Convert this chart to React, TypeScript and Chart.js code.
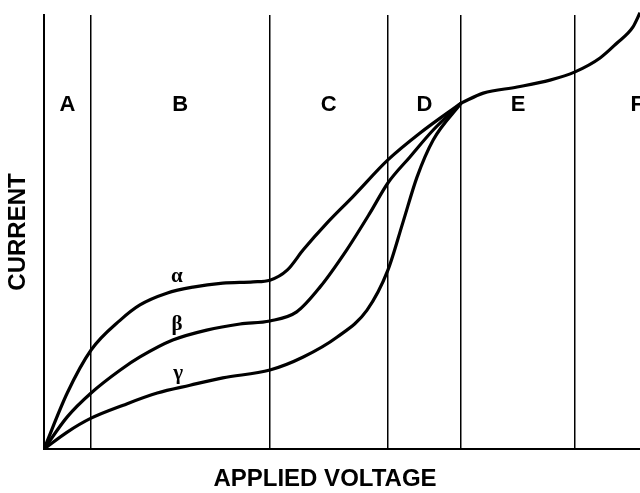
import React, { useEffect, useRef } from "react";
import { Chart, registerables } from "chart.js";

Chart.register(...registerables);

// Region boundaries along the applied-voltage axis (arbitrary units, 0..100)
const regionBoundaries = [7.9, 37.8, 57.7, 70.0, 89.1];
const regionLabels = ["A", "B", "C", "D", "E", "F"];

// Curve alpha (rises to plateau first)
const alphaX = [0, 3.9, 7.9, 12.8, 16.1, 20.6, 25.0, 30.0, 35.1, 37.9, 40.8, 43.5, 47.5, 51.8, 57.7, 63.1, 70.0];
const alphaY = [0, 12.9, 22.8, 29.7, 33.2, 35.9, 37.3, 38.2, 38.5, 38.9, 41.2, 45.9, 52.1, 58.1, 66.6, 72.8, 79.7];

// Curve beta
const betaX = [0, 3.9, 7.9, 12.8, 16.1, 21.6, 27.3, 32.9, 37.9, 42.4, 46.3, 50.8, 54.7, 57.7, 61.4, 65.3, 70.0];
const betaY = [0, 7.4, 12.9, 18.2, 21.2, 25.1, 27.4, 28.8, 29.5, 31.6, 37.3, 45.9, 54.4, 61.3, 67.3, 73.5, 79.7];

// Curve gamma
const gammaX = [0, 3.9, 7.9, 13.3, 19.0, 24.5, 30.0, 37.9, 43.5, 49.2, 54.2, 57.7, 60.2, 62.6, 65.3, 70.0];
const gammaY = [0, 3.9, 7.1, 10.1, 12.9, 14.7, 16.4, 18.2, 21.2, 25.8, 32.0, 41.2, 52.1, 62.7, 71.2, 79.7];

// Common branch after the curves merge
const commonX = [70.0, 73.7, 79.4, 84.9, 89.1, 93.3, 96.1, 98.8, 100];
const commonY = [79.7, 82.0, 83.4, 85.0, 86.9, 90.1, 93.5, 97.2, 100.5];

const curveNames = ["α", "β", "γ"];
const curveNameAt = [22.3, 22.3, 22.5];
const xTitle = "APPLIED VOLTAGE";
const yTitle = "CURRENT";

const toPts = (xs: number[], ys: number[]) => xs.map((x, i) => ({ x, y: ys[i] }));

const labelsPlugin = {
  id: "diagramLabels",
  afterDraw(chart: any) {
    const ctx = chart.ctx;
    const xs = chart.scales.x;
    const ys = chart.scales.y;
    ctx.save();
    ctx.fillStyle = "#000";
    ctx.textAlign = "center";
    ctx.textBaseline = "middle";

    // Region letters centred between boundaries
    const edges = [0, ...regionBoundaries, 110];
    ctx.font = "bold 22px 'Liberation Sans', Arial, sans-serif";
    regionLabels.forEach((t, i) => {
      const cx = (xs.getPixelForValue(edges[i]) + xs.getPixelForValue(edges[i + 1])) / 2;
      ctx.fillText(t, cx, 105);
    });

    // Curve names, placed just above each curve
    ctx.font = "bold 21px 'Liberation Serif', 'DejaVu Serif', serif";
    const curves = [
      [alphaX, alphaY],
      [betaX, betaY],
      [gammaX, gammaY],
    ];
    curves.forEach(([cx, cy], i) => {
      const xv = curveNameAt[i];
      let yv = cy[0];
      for (let k = 0; k < cx.length - 1; k++) {
        if (xv >= cx[k] && xv <= cx[k + 1]) {
          yv = cy[k] + ((cy[k + 1] - cy[k]) * (xv - cx[k])) / (cx[k + 1] - cx[k]);
          break;
        }
      }
      ctx.fillText(curveNames[i], xs.getPixelForValue(xv), ys.getPixelForValue(yv) - 14);
    });

    // Axis titles
    ctx.font = "bold 24px 'Liberation Sans', Arial, sans-serif";
    ctx.fillText(xTitle, 325, 479);
    ctx.save();
    ctx.translate(18, 232);
    ctx.rotate(-Math.PI / 2);
    ctx.fillText(yTitle, 0, 0);
    ctx.restore();

    ctx.restore();
  },
};

export default function App() {
  const ref = useRef<HTMLCanvasElement | null>(null);

  useEffect(() => {
    if (!ref.current) return;
    const lineStyle = {
      borderColor: "#000",
      borderWidth: 3.2,
      pointRadius: 0,
      fill: false,
      tension: 0.4,
      cubicInterpolationMode: "monotone" as const,
    };
    const chart = new Chart(ref.current, {
      type: "line",
      data: {
        datasets: [
          { label: "α", data: toPts(alphaX, alphaY), ...lineStyle },
          { label: "β", data: toPts(betaX, betaY), ...lineStyle },
          { label: "γ", data: toPts(gammaX, gammaY), ...lineStyle },
          { label: "common", data: toPts(commonX, commonY), ...lineStyle, clip: false as any },
        ],
      },
      options: {
        animation: false,
        responsive: false,
        maintainAspectRatio: false,
        layout: { padding: { left: 44, top: 15, right: 0, bottom: 44 } },
        plugins: { legend: { display: false }, tooltip: { enabled: false } },
        scales: {
          x: {
            type: "linear",
            min: 0,
            max: 100,
            ticks: { display: false },
            grid: { color: "#000", lineWidth: 1.5, drawTicks: false },
            border: { color: "#000", width: 2 },
            afterBuildTicks: (s: any) => {
              s.ticks = regionBoundaries.map((v) => ({ value: v }));
            },
          },
          y: {
            type: "linear",
            min: 0,
            max: 100,
            ticks: { display: false },
            grid: { display: false, drawTicks: false },
            border: { color: "#000", width: 2 },
          },
        },
      },
      plugins: [labelsPlugin],
    });
    return () => chart.destroy();
  }, []);

  return (
    <div style={{ position: "absolute", left: 0, top: 0, width: 640, height: 493, background: "#fff" }}>
      <canvas ref={ref} width={640} height={493} />
    </div>
  );
}
